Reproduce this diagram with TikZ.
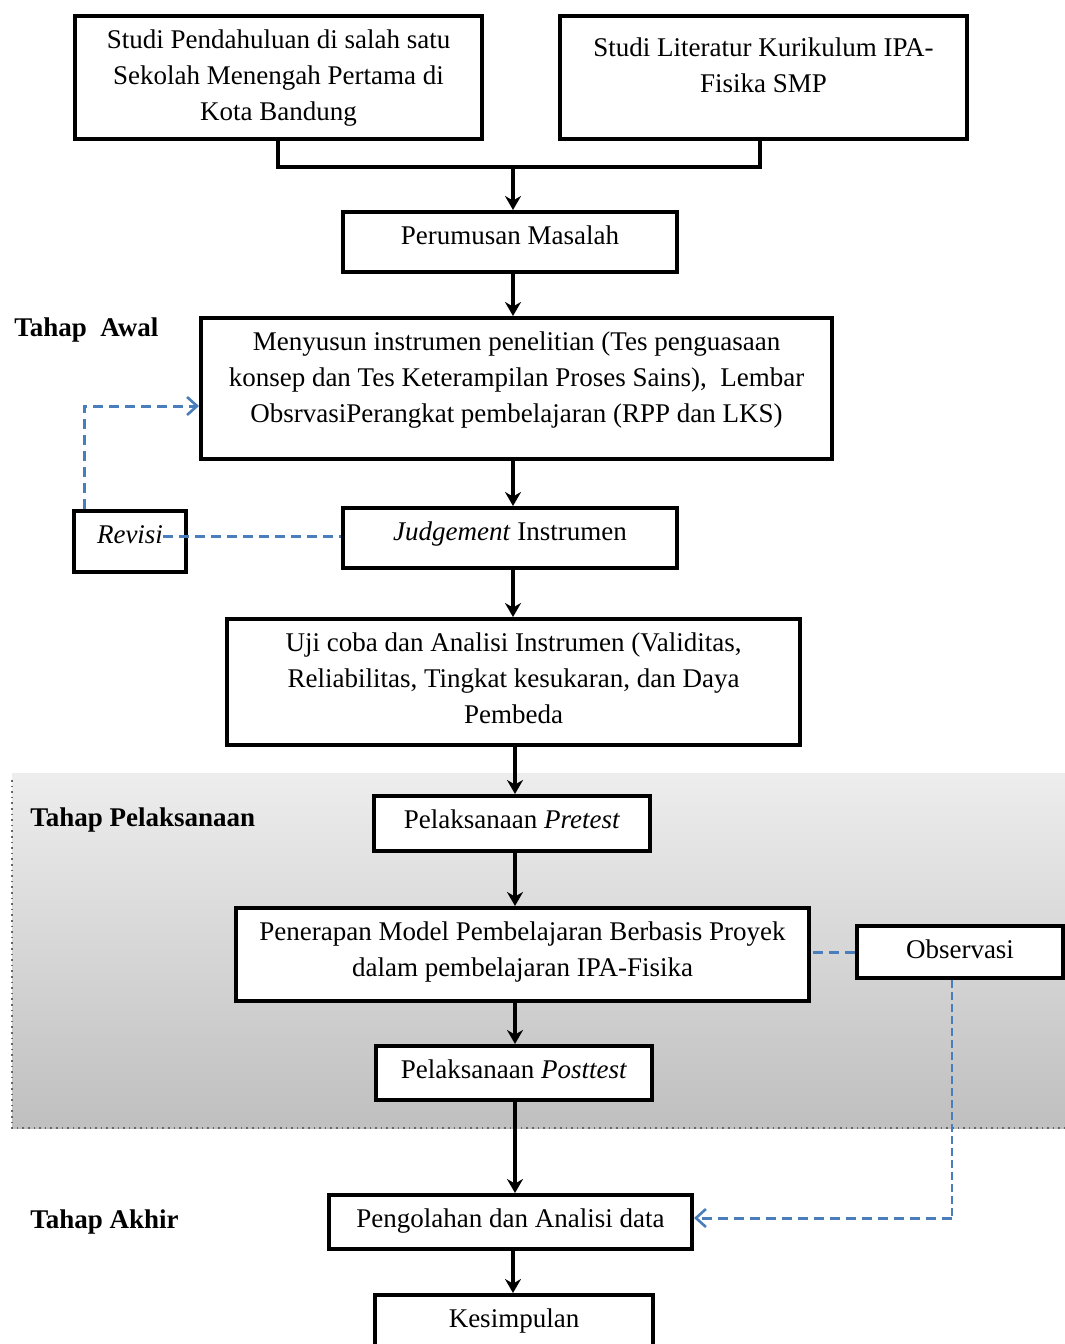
\documentclass[tikz,border=0pt]{standalone}
\usepackage{fontspec}
\setmainfont{Liberation Serif}
\usetikzlibrary{arrows.meta}
\definecolor{dblue}{HTML}{4A7EBB}
\tikzset{
  box/.style={draw=black, line width=2pt, fill=white, inner sep=0pt},
  txt/.style={align=center, inner sep=0pt, anchor=north, font=\fontsize{13.5}{18}\selectfont},
  lbl/.style={anchor=west, inner sep=0pt, font=\fontsize{13.5}{16}\selectfont\bfseries},
  arr/.style={draw=black, line width=2pt, -{Stealth[length=7pt,width=8pt]}},
  conn/.style={draw=black, line width=2pt},
  dblu/.style={draw=dblue, line width=1.5pt, dash pattern=on 5pt off 3pt},
  dblu2/.style={draw=dblue, line width=1pt, dash pattern=on 4pt off 2pt},
  barb/.style={-{Straight Barb[length=5pt,width=9pt,line width=1.3pt]}}
}
\newcommand{\mybox}[6]{% name, x1, y1, x2, y2, text
  \node[box, minimum width={(#4-#2)*0.5pt}, minimum height={(#5-#3)*0.5pt}] (#1) at ({(#2+#4)/2},{(#3+#5)/2}) {};
  \node[txt] (#1-t) at ({(#2+#4)/2},{#3+7}) {\strut #6};
}
\begin{document}
\begin{tikzpicture}[x=0.5pt,y=-0.5pt]
\useasboundingbox (0,0) rectangle (1065,1344);
\clip (0,0) rectangle (1065,1344);
% gray phase region
\shade[top color=black!7, bottom color=black!25] (12,773) rectangle (1065,1128);
\draw[black!60, line width=0.8pt, dotted] (12,780) -- (12,1128) -- (1065,1128);

% boxes
\mybox{s1}{75}{16}{482}{139}{Studi Pendahuluan di salah satu\\ Sekolah Menengah Pertama di\\ Kota Bandung}
\mybox{s2}{560}{16}{967}{139}{\rule{0pt}{16.5pt}Studi Literatur Kurikulum IPA-\\ Fisika SMP}
\mybox{pm}{343}{212}{677}{272}{Perumusan Masalah}
\mybox{mi}{201}{318}{832}{459}{Menyusun instrumen penelitian (Tes penguasaan\\ konsep dan Tes Keterampilan Proses Sains),\ \ Lembar\\ ObsrvasiPerangkat pembelajaran (RPP dan LKS)}
\mybox{ji}{343}{508}{677}{568}{\textit{Judgement} Instrumen}
\mybox{rv}{74}{511}{186}{572}{\textit{Revisi}}
\mybox{uc}{227}{619}{800}{745}{Uji coba dan Analisi Instrumen (Validitas,\\ Reliabilitas, Tingkat kesukaran, dan Daya\\ Pembeda}
\mybox{pre}{374}{796}{650}{851}{Pelaksanaan \textit{Pretest}}
\mybox{pmb}{236}{908}{809}{1001}{Penerapan Model Pembelajaran Berbasis Proyek\\ dalam pembelajaran IPA-Fisika}
\mybox{obs}{857}{926}{1063}{978}{Observasi}
\mybox{post}{376}{1046}{652}{1100}{Pelaksanaan \textit{Posttest}}
\mybox{pad}{329}{1195}{692}{1249}{Pengolahan dan Analisi data}
\mybox{kes}{375}{1295}{653}{1370}{Kesimpulan}

% phase labels
\node[lbl] (l1) at (14,330) {Tahap\ \ Awal};
\node[lbl] (l2) at (30,820) {Tahap Pelaksanaan};
\node[lbl] (l3) at (30,1222) {Tahap Akhir};

% connectors
\coordinate (j) at (513,167);
\coordinate (ax) at (515,0);
\draw[conn] (s1.south -| 278,0) |- (j) -| (s2.south -| 760,0);
\draw[arr] (j) -- (j |- pm.north);
\draw[arr] (pm.south -| j) -- (mi.north -| j);
\draw[arr] (mi.south -| j) -- (ji.north -| j);
\draw[arr] (ji.south -| j) -- (uc.north -| j);
\draw[arr] (uc.south -| ax) -- (pre.north -| ax);
\draw[arr] (pre.south -| ax) -- (pmb.north -| ax);
\draw[arr] (pmb.south -| ax) -- (post.north -| ax);
\draw[arr] (post.south -| ax) -- (pad.north -| ax);
\draw[arr] (pad.south -| j) -- (kes.north -| j);

% dashed blue
\draw[dblu] (rv-t.east) -- (ji.west |- rv-t.east);
\coordinate (rc) at (84,406);
\draw[dblu, barb] (rc |- rv.north) -- (rc) -- (rc -| mi.west);
\draw[dblu] (obs.west) -- (obs.west -| pmb.east);
\coordinate (oc) at (952,1218);
\draw[dblu2] (oc |- obs.south) -- (oc);
\draw[dblu, barb] (oc) -- (oc -| pad.east);
\end{tikzpicture}
\end{document}
